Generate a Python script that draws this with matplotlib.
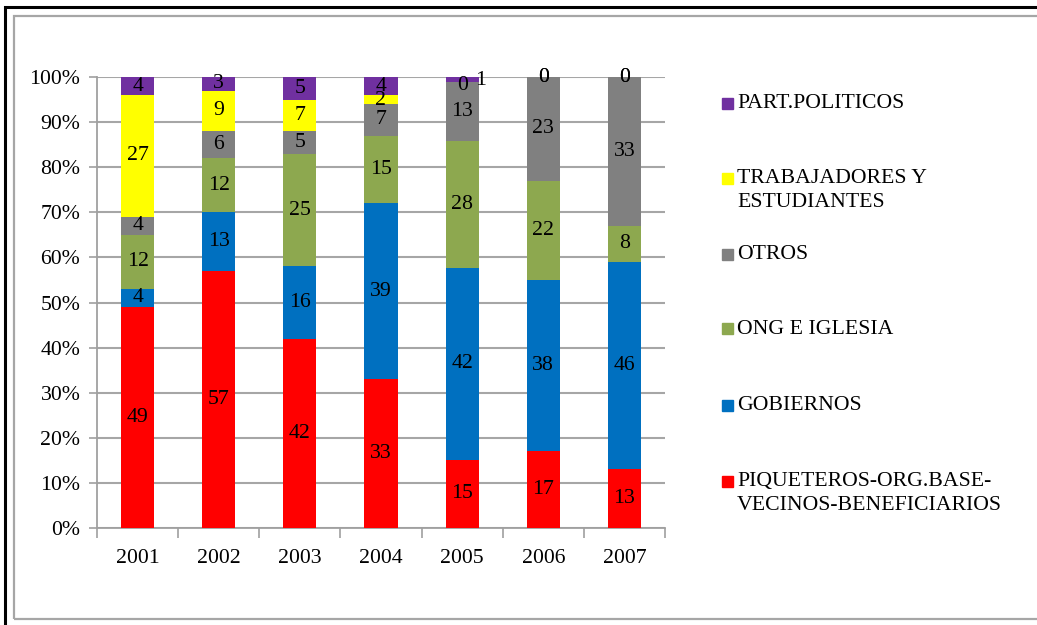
import numpy as np
import matplotlib.pyplot as plt
from matplotlib.patches import Rectangle

plt.rcParams['font.family'] = ['Liberation Serif', 'DejaVu Serif']

years = ['2001', '2002', '2003', '2004', '2005', '2006', '2007']
series = ['PIQUETEROS-ORG.BASE-\nVECINOS-BENEFICIARIOS', 'GOBIERNOS', 'ONG E IGLESIA',
          'OTROS', 'TRABAJADORES Y\nESTUDIANTES', 'PART.POLITICOS']
piqueteros = [49, 57, 42, 33, 15, 17, 13]
gobiernos = [4, 13, 16, 39, 42, 38, 46]
ong = [12, 12, 25, 15, 28, 22, 8]
otros = [4, 6, 5, 7, 13, 23, 33]
trabajadores = [27, 9, 7, 2, 0, 0, 0]
partidos = [4, 3, 5, 4, 1, 0, 0]
colors = ['#FF0000', '#0070C0', '#8DA84F', '#808080', '#FFFF00', '#7030A0']

fs = 15.7

data = np.array([piqueteros, gobiernos, ong, otros, trabajadores, partidos], dtype=float)
pct = data / data.sum(axis=0) * 100

fig = plt.figure(figsize=(10.37, 6.25), dpi=100)
ax = fig.add_axes([97 / 1037, 1 - 528 / 625, 568 / 1037, 451 / 625])

# borders of the pasted chart
fig.patches.append(Rectangle((5 / 1037, -0.1), 1.2, 1 - 7 / 625 + 0.1, transform=fig.transFigure,
                             fill=False, edgecolor='black', linewidth=2.2, zorder=0))
fig.patches.append(Rectangle((14 / 1037, 1 - 619 / 625), 1.2, (619 - 16) / 625, transform=fig.transFigure,
                             fill=False, edgecolor='#A6A6A6', linewidth=1.6, zorder=0))

x = np.arange(len(years))
bottom = np.zeros(len(years))
for i in range(len(series)):
    ax.bar(x, pct[i], 0.41, bottom=bottom, color=colors[i], zorder=3)
    for j in range(len(years)):
        yc = bottom[j] + pct[i][j] / 2
        dx, dy = 0, 0
        if i == 5 and j == 4:
            dx, dy = 13, -1
        if i == 4 and j == 4:
            dy = -3
        if i == 4 and j == 3:
            dy = -1
        ax.annotate(f'{int(data[i][j])}', (x[j], yc), xytext=(dx, dy), textcoords='offset points',
                    ha='center', va='center', fontsize=fs, zorder=4)
    bottom += pct[i]

ax.set_xlim(-0.5, 6.5)
ax.set_ylim(0, 100)
ax.set_yticks(np.arange(0, 101, 10))
ax.set_yticklabels([f'{v}%' for v in range(0, 101, 10)])
ax.set_xticks(x)
ax.set_xticklabels(years)
ax.set_xticks(np.arange(-0.5, 7, 1), minor=True)
ax.tick_params(axis='x', which='major', length=0, pad=15, labelsize=fs)
ax.tick_params(axis='x', which='minor', length=7, color='#A0A0A0', width=1.2)
ax.tick_params(axis='y', length=6, color='#A0A0A0', width=1.2, pad=6, labelsize=fs)
ax.yaxis.grid(True, color='#A6A6A6', linewidth=1.5, zorder=0)
for s in ['top', 'right']:
    ax.spines[s].set_visible(False)
ax.spines['left'].set_color('#A0A0A0')
ax.spines['bottom'].set_color('#A0A0A0')
ax.spines['left'].set_linewidth(1.3)
ax.spines['bottom'].set_linewidth(1.3)
ax.set_axisbelow(True)

# legend drawn entry by entry, top entry first
legend_y = [103, 178, 254, 329, 405, 481]
for k, i in enumerate(range(len(series) - 1, -1, -1)):
    yy = 1 - legend_y[k] / 625
    fig.patches.append(Rectangle((722 / 1037, yy - 5.5 / 625), 11 / 1037, 11 / 625,
                                 transform=fig.transFigure, color=colors[i]))
    fig.text(737 / 1037, yy + 9 / 625, series[i], ha='left', va='top', fontsize=fs,
             linespacing=1.35)

fig.savefig('out.png', dpi=100)
